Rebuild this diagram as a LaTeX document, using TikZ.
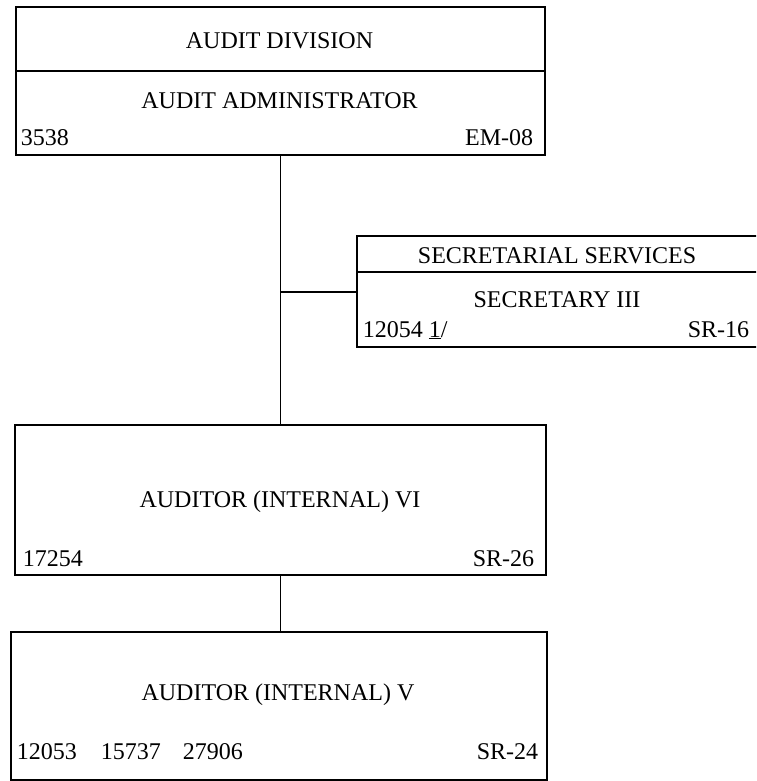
\documentclass[tikz,border=0pt]{standalone}
\usepackage{fontspec}
\setmainfont{Liberation Serif}
\begin{document}
\begin{tikzpicture}[x=1pt,y=-1pt,
  line width=1.6pt,
  box/.style={draw, line width=1.6pt, rectangle, inner sep=0pt, anchor=north west},
  txt/.style={font=\fontsize{24}{28}\selectfont, inner sep=0pt, anchor=base},
  txtl/.style={txt, anchor=base west},
  txtr/.style={txt, anchor=base east}]
\useasboundingbox (0,0) rectangle (756,781);
\clip (0,0) rectangle (756,781);
% boxes
\node[box, minimum width=529pt, minimum height=148pt] (div) at (15,6) {};
\node[box, minimum width=402pt, minimum height=111pt] (sec) at (356,235) {};
\node[box, minimum width=531pt, minimum height=150pt] (aud6) at (14,424) {};
\node[box, minimum width=536pt, minimum height=148pt] (aud5) at (10,631) {};
% dividers
\coordinate (d1) at (0,71);
\coordinate (d2) at (0,272);
\draw (div.west |- d1) -- (div.east |- d1);
\draw (sec.west |- d2) -- (sec.east |- d2);
% connectors
\draw (div.south) -- (div.south |- aud6.north);
\coordinate (br) at (div.south |- 0,292);
\draw (br) -- (sec.west |- br);
\draw (aud6.south) -- (aud6.south |- aud5.north);
% texts
\node[txt] (t1) at (279.5,49) {AUDIT DIVISION};
\node[txt] (t2) at (279.5,109) {AUDIT ADMINISTRATOR};
\node[txtl] (t3) at (20,146) {3538};
\node[txtr] (t4) at (534,146) {EM-08};
\node[txt] (s1) at (557,263) {SECRETARIAL SERVICES};
\node[txt] (s2) at (557,307) {SECRETARY III};
\node[txtl] (s3) at (362,337) {12054 \underline{1}/};
\node[txtr] (s4) at (750,337) {SR-16};
\node[txt] (a1) at (280,507) {AUDITOR (INTERNAL) VI};
\node[txtl] (a2) at (22,566) {17254};
\node[txtr] (a3) at (535,566) {SR-26};
\node[txt] (b1) at (278,700) {AUDITOR (INTERNAL) V};
\node[txtl] (b2) at (16,759) {12053};
\node[txtl] (b3) at (100,759) {15737};
\node[txtl] (b4) at (182,759) {27906};
\node[txtr] (b5) at (539,759) {SR-24};
\end{tikzpicture}
\end{document}
